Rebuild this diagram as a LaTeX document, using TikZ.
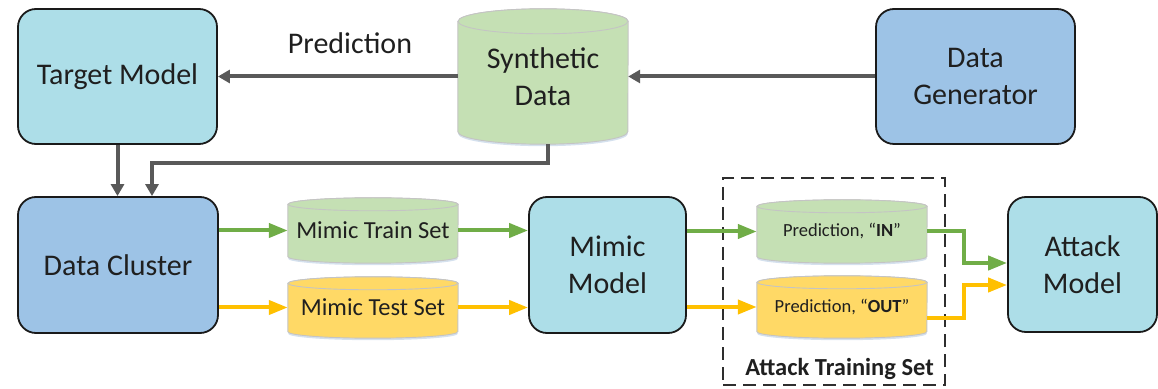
\documentclass[tikz,border=0pt]{standalone}
\usepackage{fontspec}
\setmainfont{Carlito}
\usetikzlibrary{arrows.meta,backgrounds}

\definecolor{ink}{HTML}{1F1F1F}
\definecolor{boxline}{HTML}{1A1A1A}
\definecolor{modelcyan}{HTML}{ADDEE8}
\definecolor{datablue}{HTML}{9DC3E6}
\definecolor{setgreen}{HTML}{C5E0B4}
\definecolor{setyellow}{HTML}{FFD966}
\definecolor{rimgray}{HTML}{C4C4C4}
\definecolor{cylshadow}{HTML}{D5E1EE}
\definecolor{arrgray}{HTML}{595959}
\definecolor{arrgreen}{HTML}{70AD47}
\definecolor{arrorange}{HTML}{FFC000}
\definecolor{dashgray}{HTML}{2E2E2E}

% cylinder body drawn around a named node: name, fill, half width, cap radius
\newcommand\cylbody[4]{%
  \fill[cylshadow] ([yshift=#4-2pt]#1.south) ellipse[x radius=#3, y radius=#4];
  \draw[cylrim, fill=#2] ([yshift=-#4]#1.north west) -- ([yshift=#4]#1.south west)
     arc[start angle=180, end angle=360, x radius=#3, y radius=#4]
     -- ([yshift=-#4]#1.north east)
     arc[start angle=0, end angle=180, x radius=#3, y radius=#4] -- cycle;
  \draw[cylrim, fill=#2] ([yshift=-#4]#1.north) ellipse[x radius=#3, y radius=#4];
}

\tikzset{
  bigtext/.style={font=\fontsize{30}{37}\selectfont},
  box/.style={draw=boxline, line width=1.8pt, rounded corners=18pt, inner sep=0pt,
              align=center, text=ink, bigtext},
  cylnode/.style={inner sep=0pt, align=center, text=ink},
  cylrim/.style={draw=rimgray, line width=0.9pt},
  grarrow/.style={draw=arrgray, line width=4pt, -{Triangle[length=12pt,width=13pt]}},
  garrow/.style={draw=arrgreen, line width=4pt, -{Triangle[length=19pt,width=14pt]}},
  oarrow/.style={draw=arrorange, line width=4pt, -{Triangle[length=19pt,width=14pt]}},
  dashbox/.style={draw=dashgray, line width=2pt, dash pattern=on 13pt off 7pt, inner sep=0pt},
}

\begin{document}
\begin{tikzpicture}[x=1pt, y=1pt]
\useasboundingbox (0,0) rectangle (1158,388);

% top row
\node[box, fill=modelcyan, minimum width=199pt, minimum height=135pt] (tm) at (117.5,311.5) {Target Model};
\node[cylnode, bigtext, minimum width=170pt, minimum height=135pt] (syn) at (543,311.5) {Synthetic\\Data};
\node[box, fill=datablue, minimum width=199pt, minimum height=135pt] (dg) at (975.5,311.5) {Data\\Generator};
\node[text=ink, bigtext, anchor=base] (predlbl) at (350,334) {Prediction};

% bottom row
\node[box, fill=datablue, minimum width=200pt, minimum height=136pt] (dc) at (118,123) {Data Cluster};
\node[cylnode, font=\fontsize{24.5}{29}\selectfont, minimum width=170pt, minimum height=65pt] (train) at (373,157.5) {Mimic Train Set};
\node[cylnode, font=\fontsize{24.5}{29}\selectfont, minimum width=170pt, minimum height=61pt] (test) at (373,80.5) {Mimic Test Set};
\node[box, fill=modelcyan, minimum width=157pt, minimum height=136pt] (mm) at (607.5,123) {Mimic\\Model};
\node[cylnode, font=\fontsize{18.5}{22}\selectfont, minimum width=170pt, minimum height=63pt] (pin) at (842,156.5) {Prediction, “\textbf{IN}”};
\node[cylnode, font=\fontsize{18.5}{22}\selectfont, minimum width=170pt, minimum height=62pt] (pout) at (842,81) {Prediction, “\textbf{OUT}”};
\node[box, fill=modelcyan, minimum width=149pt, minimum height=135pt] (am) at (1082.5,123.5) {Attack\\Model};

% attack training set frame
\node[dashbox, minimum width=222pt, minimum height=207pt] (ats) at (834,106.5) {};
\node[text=ink, font=\bfseries\fontsize{24.5}{29}\selectfont, anchor=base] (atslbl) at (839.5,13) {Attack Training Set};

\begin{pgfonlayer}{background}
  \cylbody{syn}{setgreen}{85pt}{12.5pt}
  \cylbody{train}{setgreen}{85pt}{6.5pt}
  \cylbody{test}{setyellow}{85pt}{6.5pt}
  \cylbody{pin}{setgreen}{85pt}{6.5pt}
  \cylbody{pout}{setyellow}{85pt}{6.5pt}
\end{pgfonlayer}

% connectors
\draw[grarrow] (syn.west) -- (tm.east);
\draw[grarrow] (dg.west) -- (syn.east);
\draw[grarrow] (tm.south) -- (tm.south |- dc.north);
\draw[grarrow] ([xshift=5pt]syn.south) -- ++(0,-19) -| ([xshift=34pt]dc.north);

\draw[garrow] (train.west -| dc.east) -- (train.west);
\draw[oarrow] (test.west -| dc.east) -- (test.west);
\draw[garrow] (train.east) -- (train.east -| mm.west);
\draw[oarrow] (test.east) -- (test.east -| mm.west);
\draw[garrow] (pin.west -| mm.east) -- (pin.west);
\draw[oarrow] (pout.west -| mm.east) -- (pout.west);
\draw[garrow] (pin.east) -- ++(37,0) |- ([yshift=1.5pt]am.west);
\draw[oarrow] ([yshift=-11pt]pout.east) -- ++(37,0) |- ([yshift=-20.5pt]am.west);
\end{tikzpicture}
\end{document}
